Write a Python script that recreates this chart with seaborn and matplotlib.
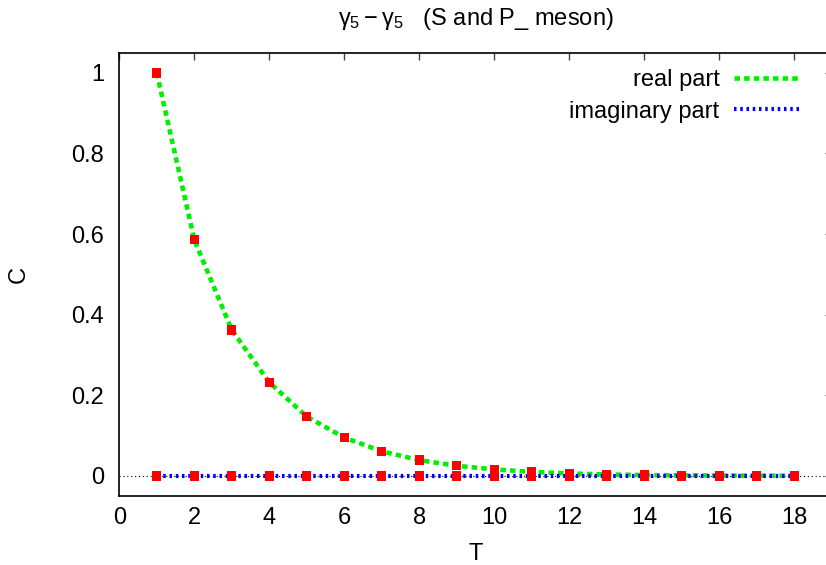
import numpy as np
import pandas as pd
import seaborn as sns
import matplotlib.pyplot as plt

# correlator values
t_vals = list(range(1, 19))
real_part = [1.0, 0.586, 0.362, 0.232, 0.147, 0.095, 0.061, 0.039, 0.025,
             0.016, 0.010, 0.006, 0.0035, 0.002, 0.0013, 0.0008, 0.0005, 0.0003]
imag_part = [0.0] * 18

TITLE = r"$\gamma_5 - \gamma_5$   (S and P_ meson)"
X_TICKS = list(range(0, 19, 2))
Y_TICKS = [0, 0.2, 0.4, 0.6, 0.8, 1]
Y_TICK_LABELS = ["0", "0.2", "0.4", "0.6", "0.8", "1"]

sns.set_theme(style="white")
plt.rcParams["font.family"] = ["Liberation Sans", "DejaVu Sans"]
plt.rcParams["mathtext.fontset"] = "custom"
plt.rcParams["mathtext.rm"] = "Liberation Sans"
plt.rcParams["mathtext.it"] = "Liberation Sans"
plt.rcParams["mathtext.bf"] = "Liberation Sans:bold"
plt.rcParams["text.color"] = "black"
plt.rcParams["axes.labelcolor"] = "black"

df = pd.DataFrame({"T": t_vals, "real": real_part, "imag": imag_part})

fig = plt.figure(figsize=(8.26, 5.65), dpi=100)
ax = fig.add_axes([0.1444, 0.1221, 0.8626, 0.7846])

ax.axhline(0, color="black", lw=0.8, ls=(0, (1, 2.5)), zorder=1)

sns.lineplot(data=df, x="T", y="real", ax=ax, color="#00ee00", lw=3.3,
             label="real part", zorder=3)
ax.lines[-1].set_dashes([1.2, 0.9])
sns.lineplot(data=df, x="T", y="imag", ax=ax, color="#0000ff", lw=3.0,
             label="imaginary part", zorder=3)
ax.lines[-1].set_dashes([0.6, 0.9])

for col in ["real", "imag"]:
    sns.scatterplot(data=df, x="T", y=col, ax=ax, color="red", marker="s",
                    s=46, edgecolor="none", linewidth=0, zorder=4, legend=False)

ax.set_xlim(0, 19)
ax.set_ylim(-0.05, 1.05)
ax.set_xticks(X_TICKS)
ax.set_yticks(Y_TICKS)
ax.set_yticklabels(Y_TICK_LABELS)
ax.tick_params(direction="in", length=5, width=1, color="#444444",
               top=True, right=True, labelsize=17, pad=8, labelcolor="black")
ax.tick_params(axis="y", pad=11)
for s in ax.spines.values():
    s.set_color("black")
    s.set_linewidth(1.2)

ax.set_xlabel("T", fontsize=17, labelpad=10)
ax.set_ylabel("C", fontsize=17, labelpad=30)
ax.set_title(TITLE, fontsize=17, pad=20)

leg = ax.legend(loc="upper right", markerfirst=False, frameon=False, fontsize=17,
                handlelength=2.85, handletextpad=0.6, labelspacing=0.4,
                borderaxespad=0.3, bbox_to_anchor=(0.98, 1.0))
leg._legend_handle_box.get_children()[0].align = "right"

fig.savefig("out.png", dpi=100)
